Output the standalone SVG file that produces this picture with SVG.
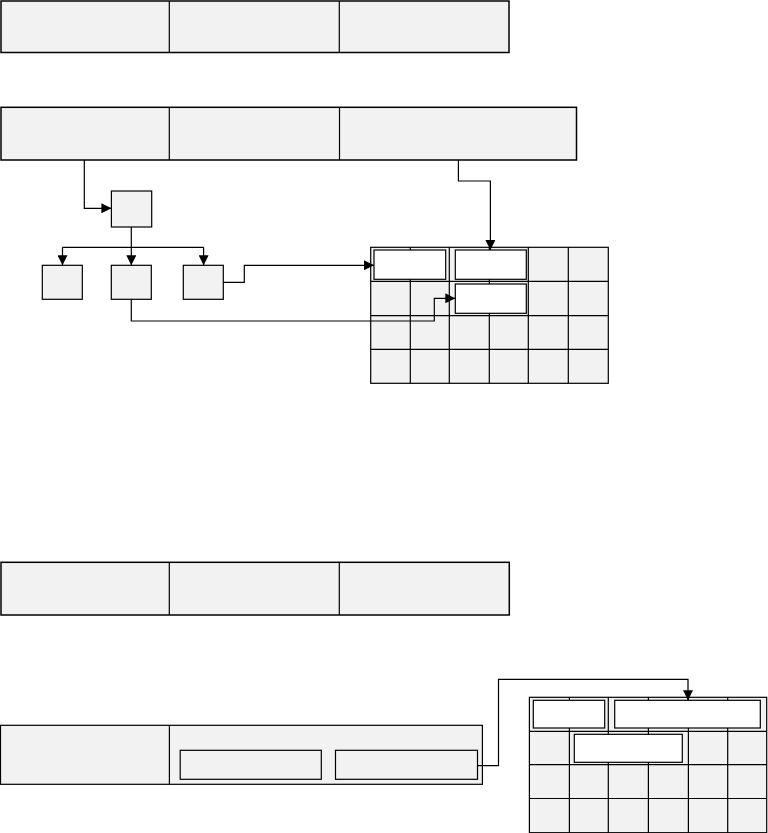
<svg xmlns="http://www.w3.org/2000/svg" width="768" height="833" viewBox="0 0 768 833">
<style>
.bar{fill:#f2f2f2;stroke:#000;stroke-width:1.5}
.n{fill:#f2f2f2;stroke:#000;stroke-width:1.2}
.w{fill:#fff;stroke:#000;stroke-width:1.2}
.g{fill:none;stroke:#000;stroke-width:1.2}
.c{fill:none;stroke:#000;stroke-width:1.2}
</style>
<defs>
<marker id="ah" markerUnits="userSpaceOnUse" markerWidth="10" markerHeight="10" refX="10" refY="5" orient="auto" viewBox="0 0 10 10">
<path d="M0,0 L10,5 L0,10 z" fill="#000"/>
</marker>
</defs>
<rect width="768" height="833" fill="#fff"/>

<g id="bar1">
<rect class="bar" x="1" y="1" width="508" height="51.5"/>
<line class="g" x1="169.3" y1="1" x2="169.3" y2="52.5"/>
<line class="g" x1="339.3" y1="1" x2="339.3" y2="52.5"/>
</g>

<g id="bar2">
<rect class="bar" x="1" y="107.3" width="575.5" height="52.7"/>
<line class="g" x1="169.3" y1="107.3" x2="169.3" y2="160"/>
<line class="g" x1="339.5" y1="107.3" x2="339.5" y2="160"/>
</g>

<g id="root"><rect class="n" x="111.4" y="191" width="40.3" height="36"/></g>
<g id="child1"><rect class="n" x="42.3" y="265.3" width="40" height="34"/></g>
<g id="child2"><rect class="n" x="111.3" y="265.3" width="40" height="34"/></g>
<g id="child3"><rect class="n" x="183.3" y="265.3" width="40" height="34"/></g>

<g id="grid1">
<rect class="n" x="370.7" y="247.3" width="237.6" height="136"/>
<path class="g" d="M410.3,247.3V383.3 M449.3,247.3V383.3 M489.3,247.3V383.3 M528.3,247.3V383.3 M568.3,247.3V383.3 M370.7,281.3H608.3 M370.7,315.7H608.3 M370.7,349.3H608.3"/>
<rect class="w" x="374" y="250" width="71.7" height="29.3"/>
<rect class="w" x="455.3" y="250" width="71" height="29.3"/>
<rect class="w" x="455.3" y="284" width="71" height="29.3"/>
</g>

<g id="bar3">
<rect class="bar" x="1" y="562.3" width="508.3" height="52.7"/>
<line class="g" x1="169.3" y1="562.3" x2="169.3" y2="615"/>
<line class="g" x1="339.3" y1="562.3" x2="339.3" y2="615"/>
</g>

<g id="bar4">
<rect class="n" x="0.5" y="725.3" width="481.9" height="59"/>
<line class="g" x1="169.4" y1="725.3" x2="169.4" y2="784.3"/>
<rect class="n" x="180.2" y="750.3" width="141.1" height="29"/>
<rect class="n" x="335.5" y="750.3" width="142" height="29"/>
</g>

<g id="grid2">
<rect class="n" x="529.4" y="697.3" width="237.3" height="135.4"/>
<path class="g" d="M569.4,697.3V832.7 M608.3,697.3V832.7 M648.4,697.3V832.7 M688.4,697.3V832.7 M727.7,697.3V832.7 M529.4,731.3H766.7 M529.4,764.7H766.7 M529.4,798.5H766.7"/>
<rect class="w" x="533.3" y="700.3" width="71.4" height="27.7"/>
<rect class="w" x="614.7" y="700.3" width="145.6" height="27.7"/>
<rect class="w" x="574.3" y="734.3" width="108" height="28"/>
</g>

<g id="connectors">
<path class="c" d="M84.3,160V208.3H111.4" marker-end="url(#ah)"/>
<path class="c" d="M131.3,227V265.3" marker-end="url(#ah)"/>
<path class="c" d="M62.5,247.3H203.6"/>
<path class="c" d="M62.5,247.3V265.3" marker-end="url(#ah)"/>
<path class="c" d="M203.6,247.3V265.3" marker-end="url(#ah)"/>
<path class="c" d="M223.3,282.3H244.3V265.3H374" marker-end="url(#ah)"/>
<path class="c" d="M131.3,299.3V321H434.3V298.3H455.3" marker-end="url(#ah)"/>
<path class="c" d="M458.4,160V181H490.4V250" marker-end="url(#ah)"/>
<path class="c" d="M477.5,765.7H498.5V679.3H688V700.3" marker-end="url(#ah)"/>
</g>
</svg>
